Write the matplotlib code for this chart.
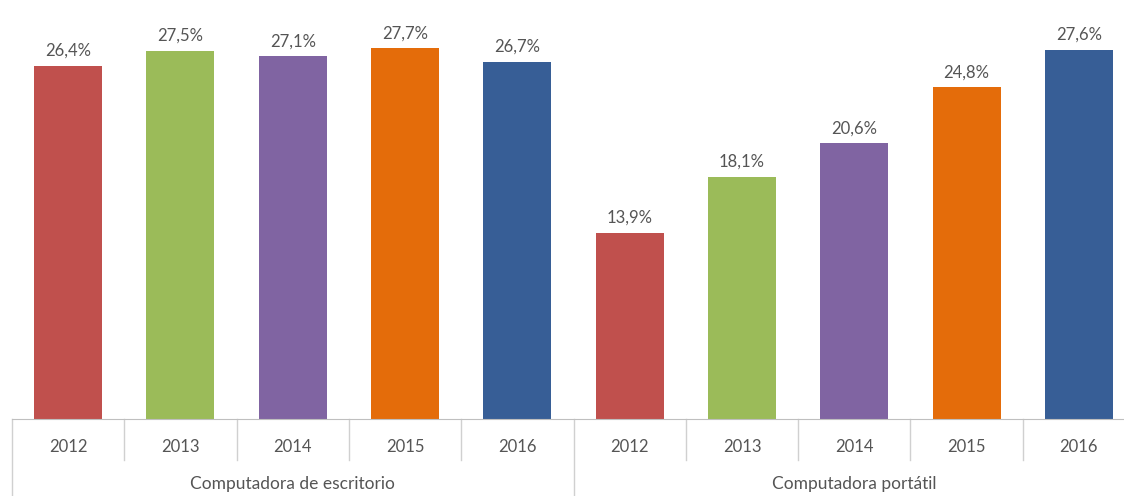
import numpy as np
import matplotlib.pyplot as plt

years = ["2012", "2013", "2014", "2015", "2016"]
groups = ["Computadora de escritorio", "Computadora portátil"]
escritorio = [26.4, 27.5, 27.1, 27.7, 26.7]
portatil = [13.9, 18.1, 20.6, 24.8, 27.6]
year_colors = ["#C0504D", "#9BBB59", "#8064A2", "#E46C0A", "#375E96"]

plt.rcParams['font.family'] = ['Lato', 'DejaVu Sans']

W, H = 1124, 496
fig = plt.figure(figsize=(W / 100, H / 100), dpi=100)
left_px, axis_px = 12, 419
ax = fig.add_axes([left_px / W, (H - axis_px) / H, (W - left_px) / W, axis_px / H])

values = escritorio + portatil
colors = year_colors * len(groups)
x = np.arange(len(values))
bars = ax.bar(x, values, width=0.605, color=colors)

txt_color = "#555555"
for b, v in zip(bars, values):
    ax.annotate(f"{v:.1f}%".replace(".", ","),
                (b.get_x() + b.get_width() / 2, v),
                xytext=(0, 5), textcoords="offset points",
                ha="center", va="bottom", fontsize=12, color=txt_color)

cat_w = 112.3
ax.set_xlim(-0.5, -0.5 + (W - left_px) / cat_w)
ax.set_ylim(0, axis_px / 13.38)
for s in ["top", "right", "left"]:
    ax.spines[s].set_visible(False)
ax.spines["bottom"].set_color("#BFBFBF")
ax.set_xticks([])
ax.set_yticks([])

# two-level category axis
tr = ax.get_xaxis_transform()
px = 1 / axis_px
for i in range(len(values) + 1):
    xs = i - 0.5
    bottom = -(H - axis_px) * px if i % len(years) == 0 else -41 * px
    ax.plot([xs, xs], [0, bottom], transform=tr, color="#D0D0D0",
            lw=1, clip_on=False)
for i, xi in enumerate(x):
    ax.text(xi, -28 * px, years[i % len(years)], transform=tr,
            ha="center", va="center", fontsize=12, color=txt_color)
for g, name in enumerate(groups):
    xc = g * len(years) + (len(years) - 1) / 2
    ax.text(xc, -65 * px, name, transform=tr, ha="center", va="center",
            fontsize=12.5, color=txt_color)

fig.savefig("out.png", dpi=100)
